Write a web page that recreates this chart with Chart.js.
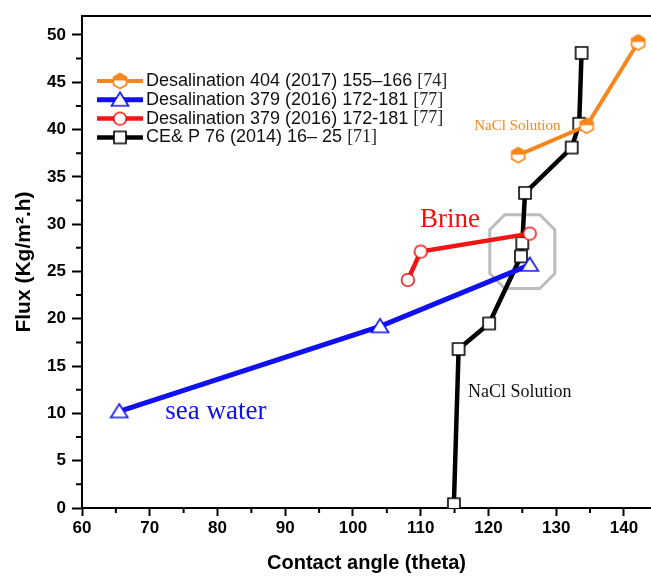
<!DOCTYPE html>
<html>
<head>
<meta charset="utf-8">
<script src="https://cdn.jsdelivr.net/npm/chart.js@4.4.0/dist/chart.umd.min.js"></script>
<style>
  html, body { margin: 0; padding: 0; background: #fff; overflow: hidden; }
  #wrap { width: 651px; height: 577px; position: relative; }
  #c { display: block; }
</style>
</head>
<body>
<div id="wrap"><canvas id="c"></canvas></div>
<script>
// data
const orangeX = [124.4, 134.5, 142.1];
const orangeY = [37.3, 40.4, 49.2];
const blueX = [65.5, 104.0, 126.1];
const blueY = [10.2, 19.2, 25.7];
const redX = [108.1, 110.0, 126.1];
const redY = [24.1, 27.1, 29.0];
const blackX = [114.9, 115.6, 120.1, 124.8, 125.0, 125.4, 132.3, 133.4, 133.75];
const blackY = [0.4, 16.8, 19.5, 26.6, 28.0, 33.3, 38.1, 40.6, 48.1];

const seriesNames = [
  "Desalination 404 (2017) 155\u2013166 ",
  "Desalination 379 (2016) 172-181 ",
  "Desalination 379 (2016) 172-181 ",
  "CE& P 76 (2014) 16\u2013 25 "
];
const seriesRefs = ["[74]", "[77]", "[77]", "[71]"];

const xTicks = [60, 70, 80, 90, 100, 110, 120, 130, 140];
const yTicks = [0, 5, 10, 15, 20, 25, 30, 35, 40, 45, 50];
const xMinor = [65, 75, 85, 95, 105, 115, 125, 135];
const yMinor = [2.5, 7.5, 12.5, 17.5, 22.5, 27.5, 32.5, 37.5, 42.5, 47.5];

// text notes in data coordinates
const notes = [
  { text: "sea water", x: 72.3, y: 10.2, color: "#1010f0", size: 27 },
  { text: "Brine", x: 109.9, y: 30.4, color: "#f01010", size: 27 },
  { text: "NaCl Solution", x: 117.9, y: 40.4, color: "#f7861c", size: 15 },
  { text: "NaCl Solution", x: 117.0, y: 12.2, color: "#111", size: 18 }
];
// grey octagon around the crossing zone
const boxX = [120.2, 129.8];
const boxY = [23.2, 31.0];

const ORANGE = "#f7861c", BLUE = "#1010f0", RED = "#f01414", BLACK = "#000";

function makeMarker(kind, color) {
  const c = document.createElement("canvas");
  c.width = 20; c.height = 20;
  const g = c.getContext("2d");
  g.lineWidth = 1.6;
  g.strokeStyle = color;
  g.fillStyle = "#fff";
  g.beginPath();
  if (kind === "square") {
    g.rect(4, 4, 12, 12);
  } else if (kind === "triangle") {
    g.moveTo(10, 2.5); g.lineTo(18.5, 16); g.lineTo(1.5, 16); g.closePath();
  } else if (kind === "circle") {
    g.arc(10, 10, 6.3, 0, Math.PI * 2);
  } else {
    for (let i = 0; i < 6; i++) {
      const a = -Math.PI / 2 + i * Math.PI / 3;
      const px = 10 + 7.5 * Math.cos(a), py = 10 + 7.5 * Math.sin(a);
      i ? g.lineTo(px, py) : g.moveTo(px, py);
    }
    g.closePath();
  }
  g.fill();
  if (kind === "hex") {
    g.save(); g.clip();
    g.fillStyle = color;
    g.fillRect(0, 0, 20, 9.5);
    g.restore();
  }
  g.stroke();
  return c;
}

const markers = [
  makeMarker("hex", ORANGE),
  makeMarker("triangle", BLUE),
  makeMarker("circle", RED),
  makeMarker("square", BLACK)
];

function pts(xs, ys) { return xs.map((x, i) => ({ x: x, y: ys[i] })); }

function series(label, xs, ys, color, marker, width) {
  return {
    label: label,
    data: pts(xs, ys),
    showLine: true,
    borderColor: color,
    backgroundColor: color,
    borderWidth: width,
    pointStyle: marker,
    pointRadius: 6,
    tension: 0
  };
}

const tickFont = { family: "Liberation Sans", weight: "bold", size: 17 };

const decor = {
  id: "decor",
  beforeDatasetsDraw(chart) {
    const { ctx, scales: { x, y } } = chart;
    // octagon
    const l = x.getPixelForValue(boxX[0]), r = x.getPixelForValue(boxX[1]);
    const t = y.getPixelForValue(boxY[1]), b = y.getPixelForValue(boxY[0]);
    const k = 15;
    ctx.save();
    ctx.strokeStyle = "#bdbdbd";
    ctx.lineWidth = 3;
    ctx.beginPath();
    ctx.moveTo(l + k, t); ctx.lineTo(r - k, t); ctx.lineTo(r, t + k);
    ctx.lineTo(r, b - k); ctx.lineTo(r - k, b); ctx.lineTo(l + k, b);
    ctx.lineTo(l, b - k); ctx.lineTo(l, t + k); ctx.closePath();
    ctx.stroke();
    // notes
    ctx.textBaseline = "middle";
    ctx.textAlign = "left";
    notes.forEach(n => {
      ctx.fillStyle = n.color;
      ctx.font = n.size + "px 'Liberation Serif'";
      ctx.fillText(n.text, x.getPixelForValue(n.x), y.getPixelForValue(n.y));
    });
    ctx.restore();
  },
  afterDraw(chart) {
    const { ctx, chartArea: a, scales: { x, y } } = chart;
    ctx.save();
    ctx.strokeStyle = "#000";
    ctx.lineWidth = 2;
    // top frame line
    ctx.beginPath();
    ctx.moveTo(a.left, a.top); ctx.lineTo(a.right, a.top);
    ctx.stroke();
    // minor ticks
    ctx.beginPath();
    xMinor.forEach(v => {
      const px = x.getPixelForValue(v);
      ctx.moveTo(px, a.bottom); ctx.lineTo(px, a.bottom + 5);
    });
    yMinor.forEach(v => {
      const py = y.getPixelForValue(v);
      ctx.moveTo(a.left, py); ctx.lineTo(a.left - 6, py);
    });
    ctx.stroke();
    // legend
    chart.data.datasets.forEach((ds, i) => {
      const cy = a.top + 65 + i * 18.8;
      const x0 = a.left + 15;
      ctx.strokeStyle = ds.borderColor;
      ctx.lineWidth = ds.borderWidth;
      ctx.beginPath();
      ctx.moveTo(x0, cy); ctx.lineTo(x0 + 46, cy);
      ctx.stroke();
      const m = markers[i];
      ctx.drawImage(m, x0 + 23 - m.width / 2, cy - m.height / 2);
      ctx.fillStyle = "#111";
      ctx.textBaseline = "middle";
      ctx.font = "18px 'Liberation Sans'";
      ctx.fillText(seriesNames[i], x0 + 49, cy);
      const w = ctx.measureText(seriesNames[i]).width;
      ctx.font = "18px 'Liberation Serif'";
      ctx.fillStyle = "#222";
      ctx.fillText(seriesRefs[i], x0 + 49 + w, cy);
    });
    ctx.restore();
  }
};

new Chart(document.getElementById("c"), {
  type: "scatter",
  data: {
    datasets: [
      series(seriesNames[0] + seriesRefs[0], orangeX, orangeY, ORANGE, markers[0], 4),
      series(seriesNames[1] + seriesRefs[1], blueX, blueY, BLUE, markers[1], 5),
      series(seriesNames[2] + seriesRefs[2], redX, redY, RED, markers[2], 4.5),
      series(seriesNames[3] + seriesRefs[3], blackX, blackY, BLACK, markers[3], 4.5)
    ]
  },
  options: {
    responsive: true,
    maintainAspectRatio: false,
    animation: false,
    layout: { autoPadding: false, padding: { top: 16, right: 0, left: 0, bottom: 0 } },
    plugins: { legend: { display: false }, tooltip: { enabled: false } },
    scales: {
      x: {
        type: "linear",
        min: 60,
        max: 144,
        afterBuildTicks: s => { s.ticks = xTicks.map(v => ({ value: v })); },
        afterFit: s => { s.height = 69; s.paddingRight = 0; s.paddingLeft = 0; },
        ticks: { font: tickFont, color: "#000", padding: 2, maxRotation: 0, autoSkip: false },
        grid: { drawOnChartArea: false, drawTicks: true, tickLength: 8, tickWidth: 2, tickColor: "#000" },
        border: { color: "#000", width: 2 },
        title: { display: true, text: "Contact angle (theta)", font: { family: "Liberation Sans", weight: "bold", size: 20 }, color: "#000", padding: { top: 0, bottom: 2 } }
      },
      y: {
        type: "linear",
        min: 0,
        max: 52,
        afterBuildTicks: s => { s.ticks = yTicks.map(v => ({ value: v })); },
        afterFit: s => { s.width = 82; s.paddingTop = 0; s.paddingBottom = 0; },
        ticks: { font: tickFont, color: "#000", padding: 6, autoSkip: false },
        grid: { drawOnChartArea: false, drawTicks: true, tickLength: 10, tickWidth: 2, tickColor: "#000" },
        border: { color: "#000", width: 2 },
        title: { display: true, text: "Flux (Kg/m\u00b2.h)", font: { family: "Liberation Sans", weight: "bold", size: 21 }, color: "#000", padding: { top: 12, bottom: 0 } }
      }
    }
  },
  plugins: [decor]
});
</script>
</body>
</html>
